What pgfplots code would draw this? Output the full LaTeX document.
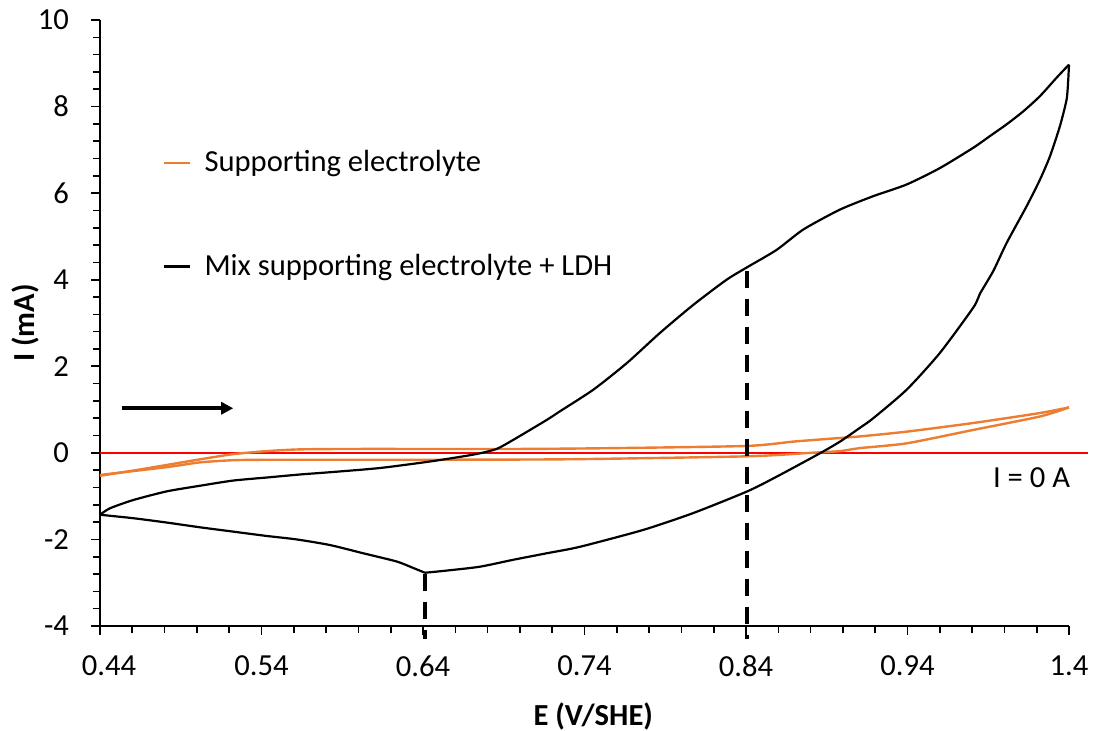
\documentclass[border=0pt]{standalone}
\usepackage{fontspec}
\setmainfont{Carlito}
\usepackage{pgfplots}
\pgfplotsset{compat=1.18}
\usetikzlibrary{arrows.meta}
\definecolor{exorange}{HTML}{ED7D31}
\begin{document}
\fontsize{15.3}{18}\selectfont
\begin{tikzpicture}
\path[use as bounding box] (-50pt,-52.5pt) rectangle (498.5pt,313pt);
\begin{axis}[
  at={(0,0)}, anchor=south west,
  scale only axis, width=484.5pt, height=303pt,
  xmin=0.44, xmax=1.04, ymin=-4, ymax=10,
  axis lines*=left,
  axis line style={line width=0.9pt, black},
  xtick={0.44,0.54,0.64,0.74,0.84,0.94,1.04},
  xticklabels={\hspace*{9pt}0.44,0.54,0.64,0.74,0.84,0.94,1.4},
  ytick={-4,-2,0,2,4,6,8,10},
  minor x tick num=4, minor y tick num=4,
  tick align=outside,
  major tick length=4.5pt, minor tick length=3.5pt,
  tick style={black, line width=0.8pt},
  /pgf/number format/assume math mode=true,
  ticklabel style={font=\fontsize{15.3}{18}\selectfont},
  xticklabel style={yshift=-5pt},
  yticklabel style={xshift=-5.7pt},
  xlabel={E (V/SHE)}, ylabel={I (mA)},
  label style={font=\bfseries\fontsize{15.3}{18}\selectfont},
  xlabel style={at={(axis description cs:0.509,0)}, anchor=center, yshift=-45pt},
  ylabel style={at={(axis description cs:-0.0774,0.5)}, anchor=center},
  clip=false,
  legend cell align=left,
  legend image code/.code={\draw[#1, line width=1.2pt] (0pt,0pt) -- (13pt,0pt);},
  legend style={draw=none, fill=none, at={(axis cs:0.4784,5.5)}, anchor=west,
    row sep=39pt, column sep=6.85pt, inner sep=0pt,
    nodes={inner sep=0pt}, font=\fontsize{15.3}{18}\selectfont},
]
\addplot[red, line width=1.2pt, forget plot] coordinates {(0.44,0) (1.0518,0)};
\addplot[exorange, line width=1.2pt, smooth, tension=0.4] coordinates {
(0.4400,-0.53) (0.4606,-0.41) (0.4813,-0.28) (0.5019,-0.15) (0.5225,-0.03)
(0.5432,0.04) (0.5638,0.08) (0.6000,0.09) (0.7000,0.09) (0.7600,0.11)
(0.8408,0.16) (0.8693,0.26) (0.8899,0.32) (0.9106,0.38) (0.9395,0.49)
(0.9808,0.69) (1.0220,0.92) (1.0400,1.05)
};
\addlegendentry{Supporting electrolyte}
\addplot[exorange, line width=1.2pt, smooth, tension=0.4, forget plot] coordinates {
(1.0400,1.05) (1.0220,0.84) (0.9808,0.53) (0.9395,0.22) (0.9106,0.11) (0.8982,0.04)
(0.8796,0.00) (0.8408,-0.08) (0.7248,-0.15) (0.6000,-0.16) (0.5432,-0.16)
(0.5225,-0.17) (0.5019,-0.22) (0.4813,-0.33) (0.4400,-0.51)
};
\addplot[black, line width=1.1pt, smooth, tension=0.4] coordinates {
(0.4400,-1.43) (0.4462,-1.28) (0.4606,-1.09) (0.4813,-0.89) (0.5019,-0.76)
(0.5225,-0.64) (0.5432,-0.57) (0.5638,-0.50) (0.5850,-0.44) (0.6134,-0.35)
(0.6443,-0.20) (0.6650,-0.08) (0.6753,-0.01) (0.6856,0.09) (0.6959,0.30)
(0.7166,0.76) (0.7248,0.96) (0.7455,1.46) (0.7661,2.07) (0.7867,2.77)
(0.8074,3.42) (0.8280,4.00) (0.8408,4.29) (0.8590,4.69) (0.8755,5.16)
(0.8982,5.62) (0.9188,5.93) (0.9395,6.20) (0.9601,6.58) (0.9808,7.05)
(0.9911,7.32) (1.0014,7.59) (1.0117,7.89) (1.0220,8.24) (1.0324,8.67)
(1.0400,8.97)
};
\addlegendentry{Mix supporting electrolyte + LDH}
\addplot[black, line width=1.1pt, smooth, tension=0.4, forget plot] coordinates {
(1.0400,8.97) (1.0395,8.60) (1.0385,8.16) (1.0344,7.55) (1.0282,6.85) (1.0220,6.31)
(1.0138,5.70) (1.0014,4.85) (0.9931,4.20) (0.9849,3.68) (0.9808,3.36)
(0.9601,2.31) (0.9395,1.46) (0.9188,0.80) (0.9106,0.58) (0.8982,0.26)
(0.8858,-0.01) (0.8590,-0.55) (0.8408,-0.89) (0.8074,-1.39) (0.7764,-1.78)
(0.7372,-2.17) (0.7166,-2.32) (0.6959,-2.47) (0.6753,-2.63) (0.6546,-2.72)
(0.6412,-2.77)
};
\addplot[black, line width=1.1pt, smooth, tension=0.4, forget plot] coordinates {
(0.6412,-2.77) (0.6340,-2.66) (0.6237,-2.51) (0.6030,-2.32) (0.5824,-2.13)
(0.5618,-2.00) (0.5432,-1.92) (0.5225,-1.82) (0.5019,-1.72) (0.4813,-1.61)
(0.4606,-1.51) (0.4400,-1.43)
};
\addplot[black, line width=1.8pt, dash pattern=on 8.5pt off 5.5pt, forget plot] coordinates {(0.6412,-2.80) (0.6412,-4.3)};
\addplot[black, line width=1.8pt, dash pattern=on 8.5pt off 5.5pt, forget plot] coordinates {(0.8408,4.2) (0.8408,-4.3)};
\draw[black, line width=1.8pt, -{Triangle[length=6pt, width=6pt]}] (axis cs:0.4534,1.03) -- (axis cs:0.5225,1.03);
\node[font=\fontsize{15.3}{18}\selectfont, anchor=center] at (axis cs:1.0168,-0.58) {I = 0 A};
\end{axis}
\end{tikzpicture}
\end{document}
